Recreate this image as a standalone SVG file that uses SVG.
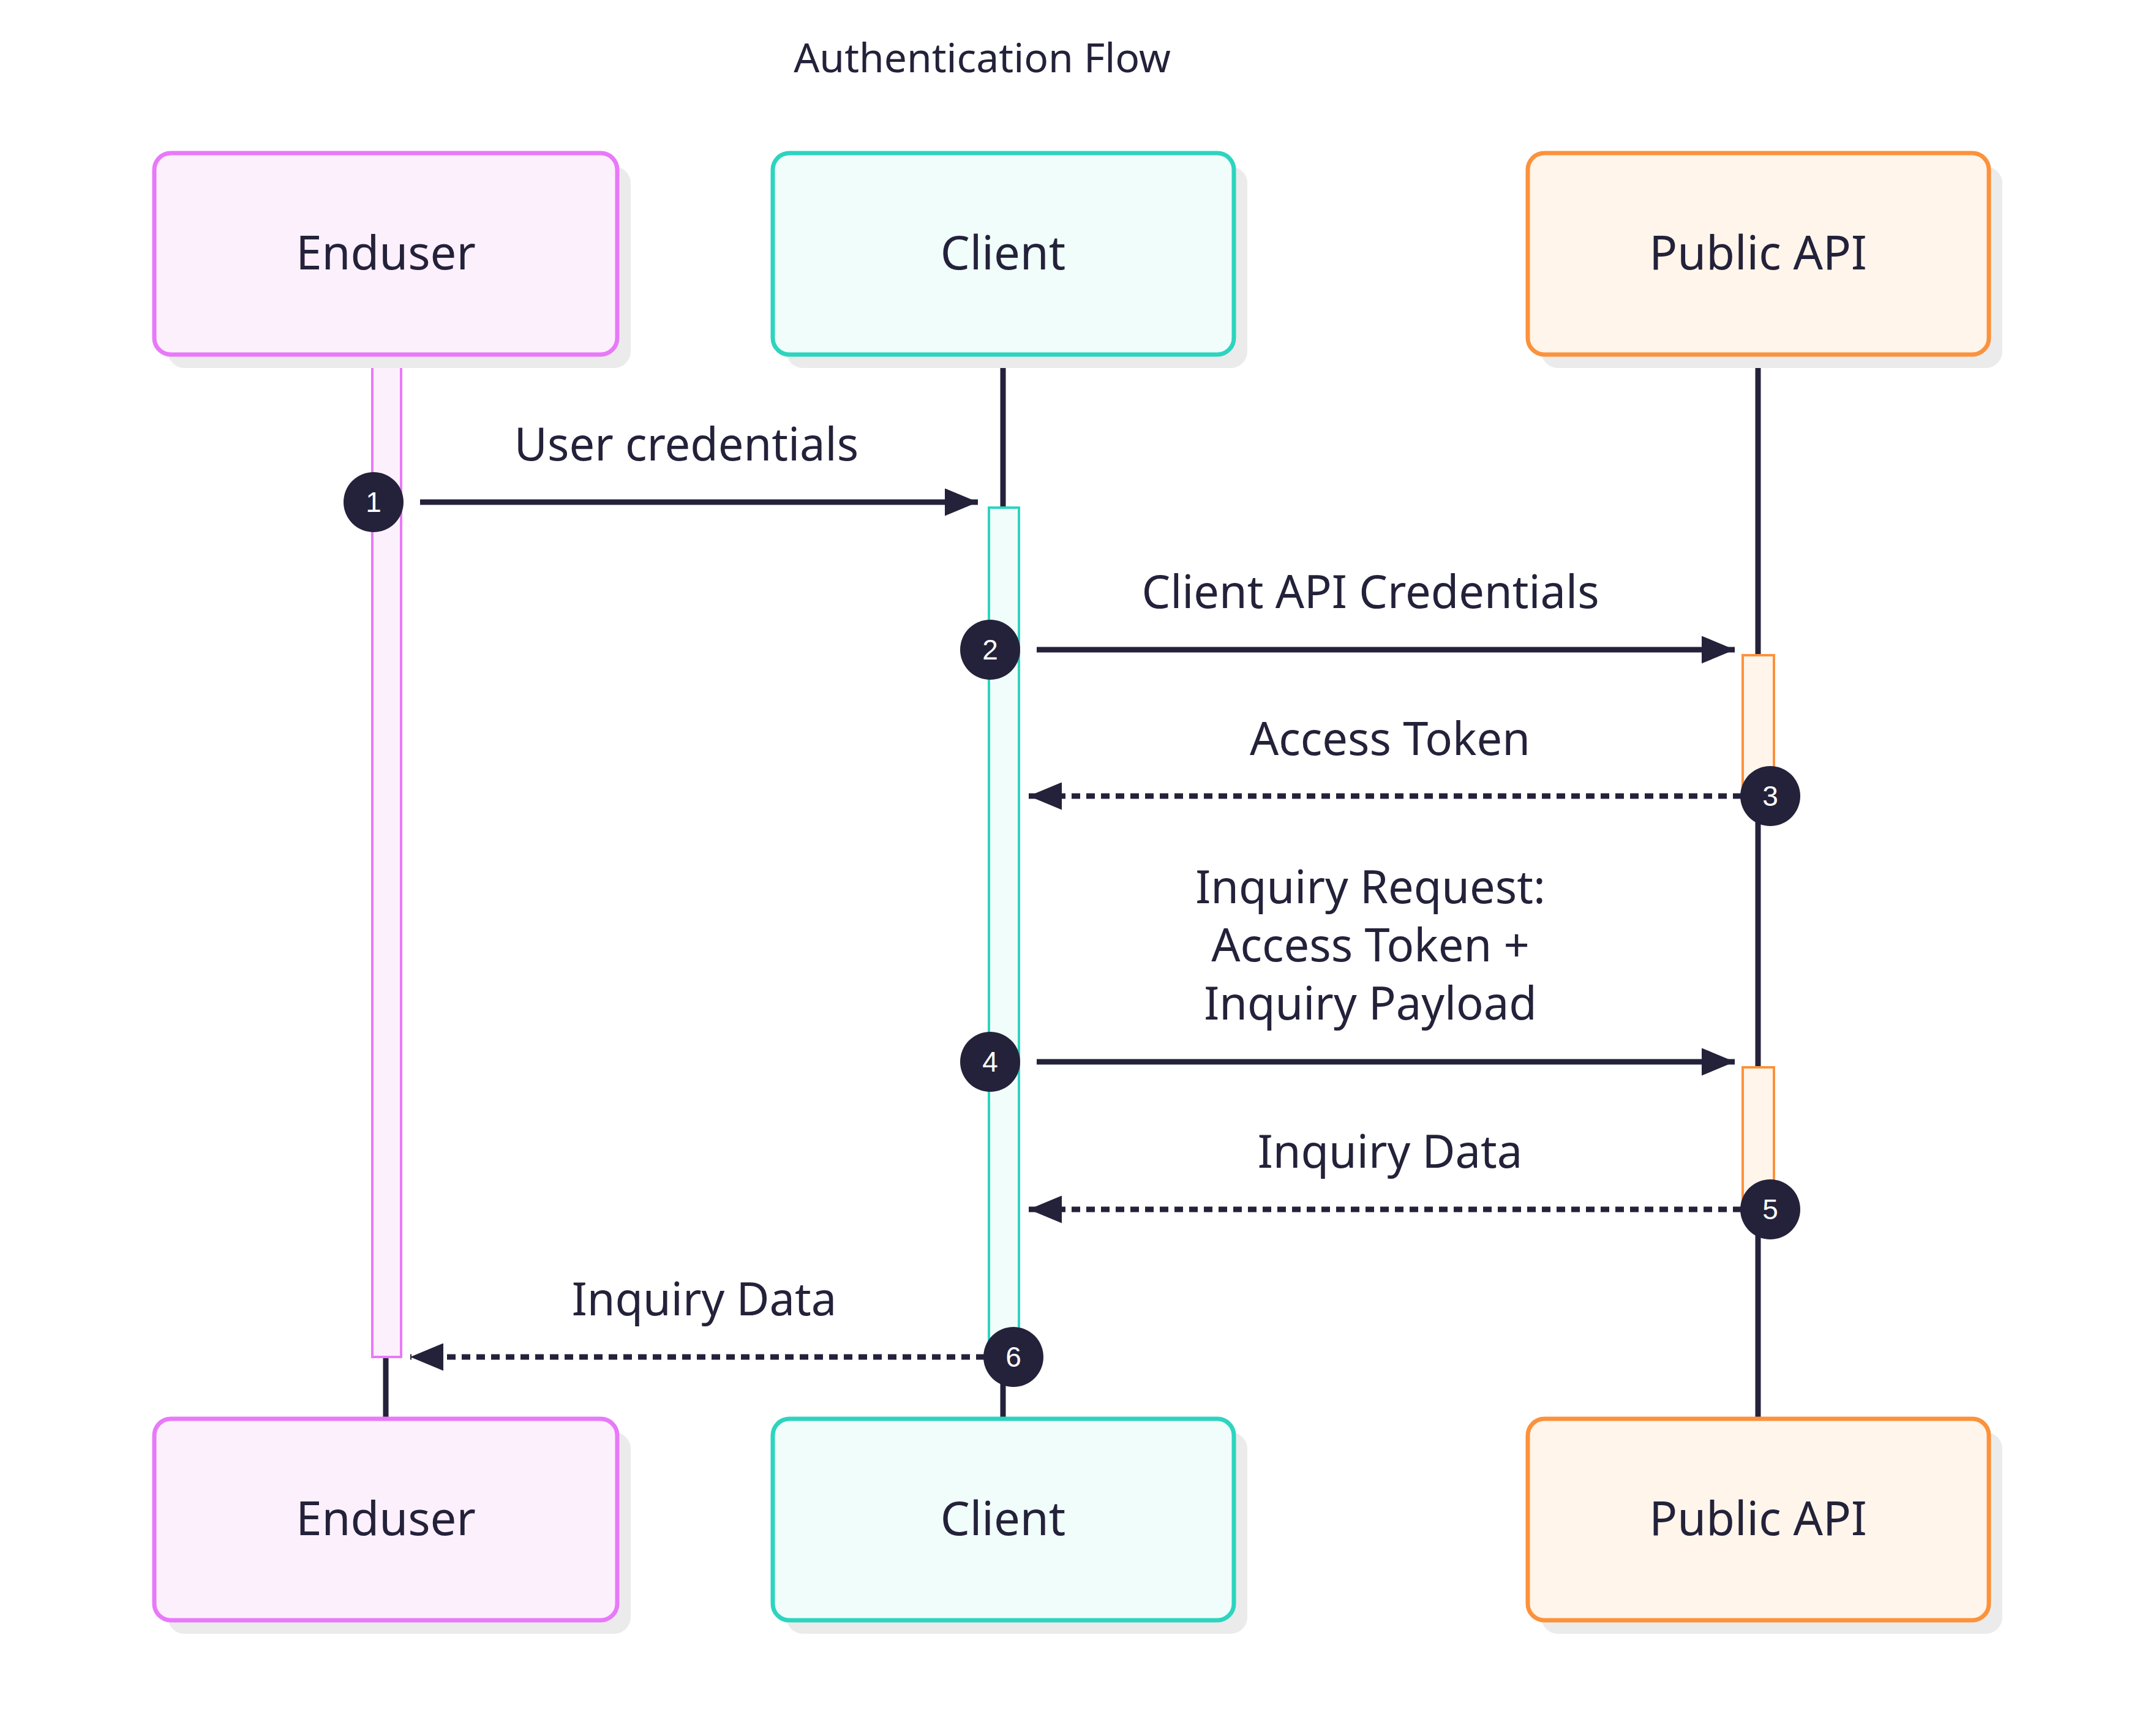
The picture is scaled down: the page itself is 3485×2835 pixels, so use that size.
<svg xmlns="http://www.w3.org/2000/svg" width="3485" height="2835" viewBox="0 0 3485 2835">
<style>
text{font-family:"Noto Sans","DejaVu Sans",sans-serif;fill:#24223a;text-anchor:middle}
.lbl{font-size:76px}
.msg{font-size:74px}
.num{font-size:46px;fill:#fff;font-family:"Liberation Sans",Arial,sans-serif}
.shadow{fill:#ebebeb}
.life{stroke:#24223a;stroke-width:9}
.solid{stroke:#24223a;stroke-width:9;fill:none;marker-end:url(#ah)}
.dash{stroke:#24223a;stroke-width:9;fill:none;stroke-dasharray:14 10;marker-end:url(#ah)}
.badge{fill:#24223a}
</style>
<defs>
<marker id="ah" markerWidth="6" markerHeight="5" refX="6" refY="2.5" orient="auto" markerUnits="strokeWidth"><path d="M0,0L6,2.5L0,5z" fill="#24223a"/></marker>
</defs>
<rect width="3485" height="2835" fill="#fff"/>
<text x="1604" y="118" style="font-size:66px">Authentication Flow</text>
<g id="lifelines">
<line class="life" x1="630" y1="2216" x2="630" y2="2317"/>
<line class="life" x1="1638" y1="579" x2="1638" y2="829"/>
<line class="life" x1="1638" y1="2234" x2="1638" y2="2317"/>
<line class="life" x1="2871" y1="579" x2="2871" y2="2317"/>
</g>
<g id="activations">
<rect x="608" y="579" width="47" height="1637" fill="#fdf0fd" stroke="#e879f9" stroke-width="4"/>
<rect x="1615" y="829" width="49" height="1405" fill="#f0fdfa" stroke="#2dd4bf" stroke-width="4"/>
<rect x="2846" y="1070" width="51" height="230" fill="#fff5eb" stroke="#fb923c" stroke-width="4"/>
<rect x="2846" y="1743" width="51" height="232" fill="#fff5eb" stroke="#fb923c" stroke-width="4"/>
</g>
<g id="enduser-top"><rect class="shadow" x="274" y="272" width="756" height="329" rx="27"/><rect x="252" y="250" width="756" height="329" rx="27" fill="#fdf0fd" stroke="#e879f9" stroke-width="7"/><text class="lbl" x="630" y="440">Enduser</text></g>
<g id="client-top"><rect class="shadow" x="1284" y="272" width="753" height="329" rx="27"/><rect x="1262" y="250" width="753" height="329" rx="27" fill="#f0fdfa" stroke="#2dd4bf" stroke-width="7"/><text class="lbl" x="1638" y="440">Client</text></g>
<g id="api-top"><rect class="shadow" x="2517" y="272" width="753" height="329" rx="27"/><rect x="2495" y="250" width="753" height="329" rx="27" fill="#fff5eb" stroke="#fb923c" stroke-width="7"/><text class="lbl" x="2871" y="440">Public API</text></g>
<g id="enduser-bottom"><rect class="shadow" x="274" y="2339" width="756" height="329" rx="27"/><rect x="252" y="2317" width="756" height="329" rx="27" fill="#fdf0fd" stroke="#e879f9" stroke-width="7"/><text class="lbl" x="630" y="2507">Enduser</text></g>
<g id="client-bottom"><rect class="shadow" x="1284" y="2339" width="753" height="329" rx="27"/><rect x="1262" y="2317" width="753" height="329" rx="27" fill="#f0fdfa" stroke="#2dd4bf" stroke-width="7"/><text class="lbl" x="1638" y="2507">Client</text></g>
<g id="api-bottom"><rect class="shadow" x="2517" y="2339" width="753" height="329" rx="27"/><rect x="2495" y="2317" width="753" height="329" rx="27" fill="#fff5eb" stroke="#fb923c" stroke-width="7"/><text class="lbl" x="2871" y="2507">Public API</text></g>
<g id="connectors">
<line class="solid" x1="686" y1="820" x2="1597" y2="820"/>
<line class="solid" x1="1693" y1="1061" x2="2833" y2="1061"/>
<line class="dash" x1="2844" y1="1300" x2="1680" y2="1300"/>
<line class="solid" x1="1693" y1="1734" x2="2833" y2="1734"/>
<line class="dash" x1="2844" y1="1975" x2="1680" y2="1975"/>
<line class="dash" x1="1608" y1="2216" x2="670" y2="2216"/>
<text class="msg" x="1121" y="752">User credentials</text>
<text class="msg" x="2238" y="993">Client API Credentials</text>
<text class="msg" x="2270" y="1233">Access Token</text>
<text class="msg" x="2238" y="1475">Inquiry Request:</text>
<text class="msg" x="2238" y="1570">Access Token +</text>
<text class="msg" x="2238" y="1665">Inquiry Payload</text>
<text class="msg" x="2270" y="1907">Inquiry Data</text>
<text class="msg" x="1150" y="2148">Inquiry Data</text>
</g>
<g id="badges">
<circle class="badge" cx="610" cy="820" r="49"/><text class="num" x="610" y="836">1</text>
<circle class="badge" cx="1617" cy="1061" r="49"/><text class="num" x="1617" y="1077">2</text>
<circle class="badge" cx="2891" cy="1300" r="49"/><text class="num" x="2891" y="1316">3</text>
<circle class="badge" cx="1617" cy="1734" r="49"/><text class="num" x="1617" y="1750">4</text>
<circle class="badge" cx="2891" cy="1975" r="49"/><text class="num" x="2891" y="1991">5</text>
<circle class="badge" cx="1655" cy="2216" r="49"/><text class="num" x="1655" y="2232">6</text>
</g>
</svg>
